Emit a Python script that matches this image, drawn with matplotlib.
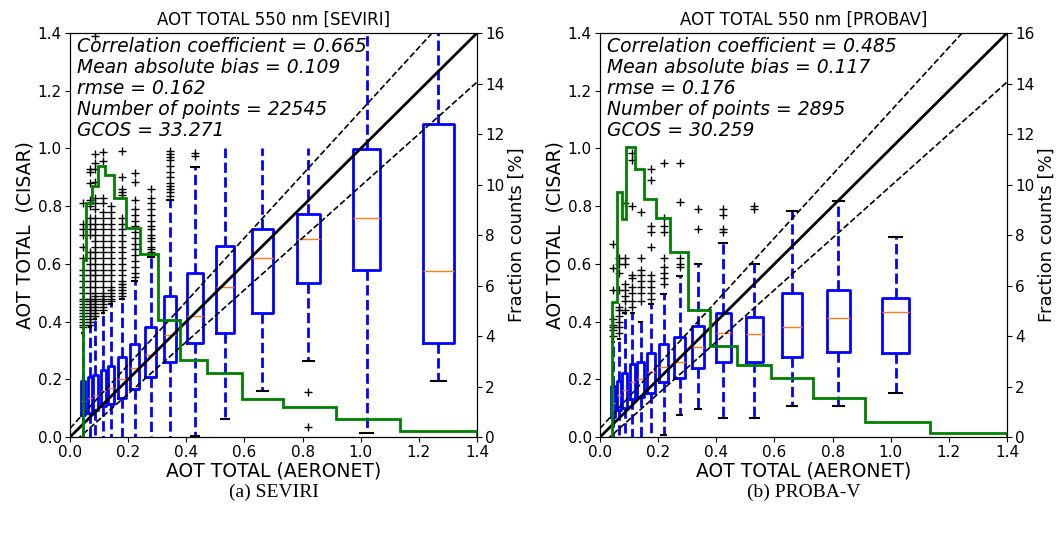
import numpy as np
import matplotlib
matplotlib.use('Agg')
import matplotlib.pyplot as plt

# ── SEVIRI panel data ─────────────────────────────────────────────
pos_L = [0.046, 0.068, 0.087, 0.114, 0.140, 0.179, 0.222, 0.278, 0.343,
         0.430, 0.533, 0.662, 0.820, 1.020, 1.267]
wid_L = [0.014, 0.015, 0.016, 0.018, 0.021, 0.029, 0.032, 0.038, 0.042,
         0.052, 0.061, 0.071, 0.080, 0.094, 0.107]
q1_L = [0.075, 0.084, 0.094, 0.107, 0.114, 0.137, 0.168, 0.207, 0.261,
        0.325, 0.362, 0.429, 0.535, 0.579, 0.327]
med_L = [0.125, 0.136, 0.145, 0.160, 0.171, 0.202, 0.238, 0.286, 0.353,
         0.419, 0.521, 0.621, 0.687, 0.760, 0.576]
q3_L = [0.194, 0.207, 0.215, 0.234, 0.247, 0.278, 0.324, 0.380, 0.490,
        0.569, 0.662, 0.721, 0.773, 0.997, 1.085]
lo_L = [-0.02, -0.02, -0.02, -0.02, -0.02, -0.02, -0.02, -0.02, -0.02,
        0.003, 0.061, 0.161, 0.265, 0.015, 0.195]
hi_L = [0.36, 0.38, 0.41, 0.43, 0.46, 0.48, 0.54, 0.625, 0.82,
        0.937, 1.0, 1.0, 1.0, 1.6, 1.6]
nocap_L = [10, 11, 12]
fl_L = [
    [0.38, 0.39, 0.40, 0.41, 0.42, 0.43, 0.44, 0.45, 0.46, 0.47, 0.48, 0.50,
     0.52, 0.54, 0.56, 0.58, 0.62, 0.66, 0.70, 0.72, 0.74, 0.81],
    [0.39, 0.40, 0.41, 0.42, 0.43, 0.44, 0.45, 0.46, 0.47, 0.48, 0.50, 0.52,
     0.54, 0.56, 0.58, 0.60, 0.62, 0.64, 0.70, 0.72, 0.74, 0.76, 0.80, 0.82,
     0.88, 0.92, 0.93],
    [0.42, 0.43, 0.44, 0.45, 0.46, 0.47, 0.48, 0.49, 0.50, 0.52, 0.54, 0.56,
     0.58, 0.60, 0.62, 0.64, 0.66, 0.68, 0.70, 0.72, 0.74, 0.76, 0.79, 0.81,
     0.83, 0.885, 0.93, 0.95, 0.98, 1.39],
    [0.44, 0.45, 0.46, 0.47, 0.48, 0.49, 0.50, 0.52, 0.54, 0.56, 0.58, 0.60,
     0.62, 0.64, 0.66, 0.68, 0.70, 0.72, 0.74, 0.76, 0.78, 0.81, 0.83, 0.955,
     0.988],
    [0.47, 0.48, 0.49, 0.50, 0.51, 0.52, 0.54, 0.56, 0.58, 0.60, 0.62, 0.64,
     0.66, 0.68, 0.70, 0.72, 0.74, 0.76, 0.78, 0.80],
    [0.49, 0.50, 0.51, 0.52, 0.53, 0.54, 0.56, 0.58, 0.60, 0.62, 0.64, 0.66,
     0.68, 0.70, 0.72, 0.74, 0.76, 0.84, 0.85, 0.86, 0.90, 0.99],
    [0.555, 0.57, 0.59, 0.61, 0.63, 0.65, 0.67, 0.69, 0.71, 0.73, 0.75, 0.77,
     0.79, 0.82, 0.885, 0.915],
    [0.64, 0.65, 0.66, 0.68, 0.69, 0.70, 0.72, 0.73, 0.75, 0.77, 0.79, 0.81,
     0.83, 0.86],
    [0.835, 0.85, 0.86, 0.87, 0.88, 0.90, 0.92, 0.94, 0.96, 0.97, 0.98, 0.99],
    [0.975, 0.985],
    [], [], [0.157, 0.036], [], [],
]
edges_L = [0.043, 0.056, 0.076, 0.096, 0.119, 0.151, 0.192, 0.242, 0.304,
           0.378, 0.470, 0.590, 0.734, 0.915, 1.135, 1.40]
frac_L = [7.01, 9.28, 9.94, 10.75, 10.38, 9.48, 8.29, 7.23, 4.63,
          3.05, 2.52, 1.49, 1.20, 0.70, 0.25]
stats_L = ["Correlation coefficient = 0.665", "Mean absolute bias = 0.109",
           "rmse = 0.162", "Number of points = 22545", "GCOS = 33.271"]

# ── PROBA-V panel data ────────────────────────────────────────────
pos_R = [0.045, 0.064, 0.085, 0.111, 0.140, 0.174, 0.219, 0.274, 0.337,
         0.424, 0.531, 0.659, 0.820, 1.017]
wid_R = [0.014, 0.013, 0.018, 0.017, 0.023, 0.028, 0.032, 0.037, 0.044,
         0.052, 0.057, 0.069, 0.078, 0.092]
q1_R = [0.070, 0.094, 0.099, 0.133, 0.140, 0.154, 0.192, 0.203, 0.240,
        0.261, 0.261, 0.276, 0.296, 0.290]
med_R = [0.117, 0.145, 0.163, 0.192, 0.200, 0.226, 0.244, 0.261, 0.313,
         0.362, 0.357, 0.380, 0.411, 0.432]
q3_R = [0.177, 0.195, 0.221, 0.253, 0.259, 0.290, 0.324, 0.348, 0.385,
        0.431, 0.417, 0.500, 0.509, 0.481]
lo_R = [-0.02, -0.02, -0.02, -0.02, -0.02, -0.02, 0.007, 0.076, 0.096,
        0.065, 0.065, 0.107, 0.107, 0.151]
hi_R = [0.33, 0.34, 0.43, 0.43, 0.40, 0.46, 0.496, 0.558, 0.598,
        0.671, 0.598, 0.784, 0.819, 0.692]
fl_R = [
    [0.35, 0.37, 0.38, 0.39, 0.41, 0.51, 0.585, 0.67],
    [0.36, 0.38, 0.40, 0.42, 0.44, 0.45, 0.51, 0.57, 0.60, 0.62],
    [0.44, 0.47, 0.49, 0.51, 0.53, 0.60, 0.62, 0.81],
    [0.45, 0.47, 0.50, 0.52, 0.55, 0.56, 0.80, 0.96, 0.985],
    [0.47, 0.50, 0.52, 0.54, 0.56, 0.58, 0.62, 0.78],
    [0.48, 0.50, 0.52, 0.54, 0.56, 0.66, 0.71, 0.73, 0.89, 0.93],
    [0.53, 0.55, 0.57, 0.59, 0.62, 0.71, 0.73, 0.76, 0.95],
    [0.59, 0.60, 0.62, 0.815, 0.95],
    [0.72, 0.79],
    [0.71, 0.72, 0.77, 0.79],
    [0.79, 0.80],
    [], [], [],
]
edges_R = [0.040, 0.057, 0.075, 0.089, 0.120, 0.151, 0.192, 0.241, 0.304,
           0.378, 0.470, 0.588, 0.732, 0.912, 1.135, 1.40]
frac_R = [5.36, 9.72, 8.62, 11.50, 10.60, 9.43, 8.69, 7.31, 5.03,
          3.62, 2.85, 2.32, 1.56, 0.58, 0.18]
stats_R = ["Correlation coefficient = 0.485", "Mean absolute bias = 0.117",
           "rmse = 0.176", "Number of points = 2895", "GCOS = 30.259"]

PANELS = [
    dict(sensor="SEVIRI", caption="(a) SEVIRI", pos=pos_L, wid=wid_L, q1=q1_L,
         med=med_L, q3=q3_L, lo=lo_L, hi=hi_L, fl=fl_L, nocap=nocap_L,
         edges=edges_L, frac=frac_L, stats=stats_L, left=0.0663),
    dict(sensor="PROBAV", caption="(b) PROBA-V", pos=pos_R, wid=wid_R, q1=q1_R,
         med=med_R, q3=q3_R, lo=lo_R, hi=hi_R, fl=fl_R, nocap=[],
         edges=edges_R, frac=frac_R, stats=stats_R, left=0.5682),
]

fig = plt.figure(figsize=(10.56, 5.33), dpi=100)
xx = np.array([0.0, 1.4])

for p in PANELS:
    ax = fig.add_axes([p["left"], 0.180, 0.3854, 0.758])
    bstats = [dict(med=m, q1=a, q3=b, whislo=lo, whishi=hi, fliers=f)
              for m, a, b, lo, hi, f in zip(p["med"], p["q1"], p["q3"],
                                            p["lo"], p["hi"], p["fl"])]
    bp = ax.bxp(bstats, positions=p["pos"], widths=p["wid"], manage_ticks=False,
                boxprops=dict(color='blue', lw=2),
                whiskerprops=dict(color='blue', lw=2, ls='--'),
                capprops=dict(color='black', lw=1.5),
                medianprops=dict(color='#ff7f0e', lw=1),
                flierprops=dict(marker='+', markeredgecolor='black',
                                markersize=5.5, markeredgewidth=1))
    for i in p["nocap"]:
        bp['caps'][2 * i + 1].set_visible(False)

    ax.plot(xx, xx, color='black', lw=2, zorder=4)
    ax.plot(xx, 1.1 * xx + 0.03, color='black', lw=1.2, ls='--', zorder=4)
    ax.plot(xx, 0.9 * xx - 0.03, color='black', lw=1.2, ls='--', zorder=4)

    ax.set_xlim(0, 1.4)
    ax.set_ylim(0, 1.4)
    ax.set_xticks(np.arange(0, 1.41, 0.2))
    ax.set_yticks(np.arange(0, 1.41, 0.2))
    ax.tick_params(labelsize=11, pad=2.5)
    ax.set_xlabel("AOT TOTAL (AERONET)", fontsize=13.5, labelpad=1)
    ax.set_ylabel("AOT TOTAL  (CISAR)", fontsize=13.5, labelpad=2)
    ax.set_title(f"AOT TOTAL 550 nm [{p['sensor']}]", fontsize=12, pad=6)
    ax.text(0.017, 0.99, "\n".join(p["stats"]), transform=ax.transAxes,
            fontsize=13.5, style='italic', va='top', ha='left', linespacing=1.14)

    ax2 = ax.twinx()
    ax2.stairs(p["frac"], p["edges"], color='green', lw=2)
    ax2.set_ylim(0, 16)
    ax2.set_yticks(np.arange(0, 17, 2))
    ax2.tick_params(labelsize=11, pad=2.5)
    ax2.set_ylabel("Fraction counts [%]", fontsize=13, labelpad=2)

    fig.text(p["left"] + 0.3854 / 2, 0.076, p["caption"], ha='center',
             va='center', fontsize=14, family='Liberation Serif')

fig.savefig("out.png", dpi=100)
